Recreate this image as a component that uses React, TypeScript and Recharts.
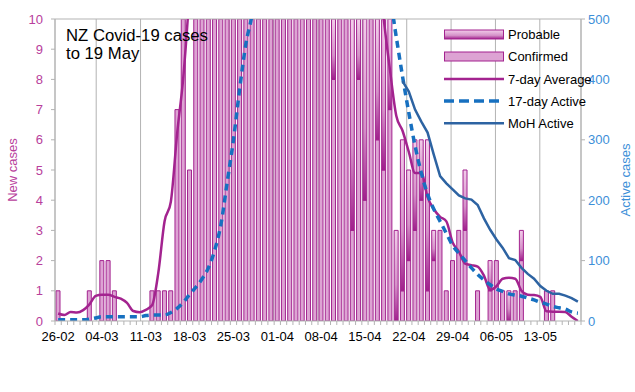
import { ComposedChart, Bar, Line, XAxis, YAxis, CartesianGrid, ReferenceLine, Legend } from 'recharts'

const DATES = [
  '26-02', '27-02', '28-02', '29-02', '01-03', '02-03', '03-03', '04-03', '05-03', '06-03',
  '07-03', '08-03', '09-03', '10-03', '11-03', '12-03', '13-03', '14-03', '15-03', '16-03',
  '17-03', '18-03', '19-03', '20-03', '21-03', '22-03', '23-03', '24-03', '25-03', '26-03',
  '27-03', '28-03', '29-03', '30-03', '31-03', '01-04', '02-04', '03-04', '04-04', '05-04',
  '06-04', '07-04', '08-04', '09-04', '10-04', '11-04', '12-04', '13-04', '14-04', '15-04',
  '16-04', '17-04', '18-04', '19-04', '20-04', '21-04', '22-04', '23-04', '24-04', '25-04',
  '26-04', '27-04', '28-04', '29-04', '30-04', '01-05', '02-05', '03-05', '04-05', '05-05',
  '06-05', '07-05', '08-05', '09-05', '10-05', '11-05', '12-05', '13-05', '14-05', '15-05',
  '16-05', '17-05', '18-05', '19-05',
]

const CONFIRMED = [
  1, 0, 0, 0, 0, 1, 0, 2, 2, 1,
  0, 0, 0, 0, 0, 1, 1, 1, 1, 7,
  12, 5, 14, 20, 36, 40, 50, 78, 85, 83,
  63, 76, 58, 61, 71, 71, 82, 89, 67, 54,
  50, 29, 44, 29, 8, 19, 20, 3, 8, 4,
  15, 6, 5, 7, 0, 1, 2, 3, 4, 1,
  2, 3, 1, 2, 3, 3, 0, 1, 0, 1,
  2, 1, 0, 1, 2, 0, 0, 0, 1, 1,
  0, 0, 0, 0,
]

const PROBABLE = [
  0, 0, 0, 0, 0, 0, 0, 0, 0, 0,
  0, 0, 0, 0, 0, 0, 0, 0, 0, 0,
  0, 0, 0, 0, 0, 0, 0, 0, 0, 0,
  0, 0, 0, 0, 0, 0, 0, 0, 0, 0,
  0, 0, 0, 0, 5, 0, 0, 9, 5, 8,
  0, 6, 7, 5, 3, 5, 3, 3, 2, 5,
  1, 0, 0, 0, 0, 2, 0, 0, 0, 1,
  0, 0, 1, 0, 1, 0, 0, 0, 0, 0,
  0, 0, 0, 0,
]

const AVG7 = [
  0.25, 0.2, 0.3, 0.28, 0.36, 0.55, 0.83, 0.87, 0.87, 0.8,
  0.74, 0.6, 0.33, 0.29, 0.37, 0.52, 1.6, 3.3, 3.95, 6.2,
  8.1, 11, 15, 20, 26, 33, 42, 50, 58, 64,
  68, 70, 72, 71, 70, 68, 67, 68, 70, 68,
  64, 58, 50, 44, 38, 33, 28, 24, 20, 17,
  14, 12, 10, 8.3, 6.8, 6.3, 5.6, 4.9, 4.9, 4.1,
  3.7, 3.45, 3.3, 2.6, 2.3, 1.9, 1.85, 1.8, 1.5, 1.03,
  1.15, 1.4, 1.43, 1.4, 1.0, 0.87, 0.86, 0.8, 0.32, 0.31,
  0.31, 0.3, 0.14, 0,
]

const ACTIVE17 = [
  2, 2, 2, 2, 2, 3, 5, 7, 7, 7,
  7, 7, 7, 7, 9, 10, 10, 10, 14, 21,
  31, 44, 56, 70, 88, 117, 160, 230, 300, 385,
  460, 510, 600, 680, 740, 800, 850, 890, 920, 940,
  950, 950, 940, 920, 890, 850, 800, 750, 700, 660,
  620, 590, 560, 535, 470, 405, 345, 290, 245, 210,
  185, 165, 145, 125, 112, 100, 88, 77, 68, 60,
  53, 49, 45, 43, 41, 38, 35, 31, 28, 24,
  22, 20, 15, 13,
]

const MOH_ACTIVE = [
  null, null, null, null, null, null, null, null, null, null,
  null, null, null, null, null, null, null, null, null, null,
  null, null, null, null, null, null, null, null, null, null,
  null, null, null, null, null, null, null, null, null, null,
  null, null, null, null, null, null, null, null, null, null,
  null, null, null, null, null, 397, 380, 350, 330, 312,
  275, 240, 228, 218, 208, 203, 201, 192, 170, 151,
  135, 121, 104, 101, 88, 78, 70, 58, 50, 45,
  45, 42, 38, 32,
]

const LEFT_TICKS = [0, 1, 2, 3, 4, 5, 6, 7, 8, 9, 10]
const RIGHT_TICKS = [0, 100, 200, 300, 400, 500]
// week boundaries on a hidden numeric axis, used only for the vertical grid
const WEEK_LINES = [6.5, 13.5, 20.5, 27.5, 34.5, 41.5, 48.5, 55.5, 62.5, 69.5, 76.5]

const GRID = '#b3b3b3'
const MAGENTA = '#a3238f'
const PINK_FILL = '#dda3d3'
const LEFT_TEXT = '#b8409c'
const DASH_BLUE = '#1770c0'
const MOH_BLUE = '#2d63a2'
const RIGHT_TEXT = '#3d8fd8'
const FONT = '"Liberation Sans", Arial, sans-serif'

const data = DATES.map((date, i) => ({
  date,
  confirmed: CONFIRMED[i],
  probable: PROBABLE[i],
  avg7: AVG7[i],
  active17: ACTIVE17[i],
  moh: MOH_ACTIVE[i],
}))

function XTick(props: any) {
  const { x, y, payload, index } = props
  const off = payload.offset ?? 0
  const axisY = y - 11
  return (
    <g>
      <line x1={x - off} x2={x - off} y1={axisY} y2={axisY + 4} stroke={GRID} />
      {index === DATES.length - 1 && (
        <line x1={x + off} x2={x + off} y1={axisY} y2={axisY + 4} stroke={GRID} />
      )}
      {index % 7 === 0 && (
        <text x={x} y={y} dy="0.71em" textAnchor="middle" fill="#000" fontSize={13}>
          {payload.value}
        </text>
      )}
    </g>
  )
}

function LegendBox() {
  const rows = [34.5, 56.5, 79, 101, 123.3].map((v) => v - 24)
  const labels = ['Probable', 'Confirmed', '7-day Average', '17-day Active', 'MoH Active']
  return (
    <svg width={190} height={112} style={{ overflow: 'visible', display: 'block' }}>
      <rect x={4.5} y={rows[0] - 4.5} width={59} height={9} fill="url(#probGrad)" stroke={MAGENTA} />
      <rect x={4.5} y={rows[1] - 4.5} width={59} height={9} fill={PINK_FILL} stroke={MAGENTA} />
      <line x1={4} x2={64} y1={rows[2]} y2={rows[2]} stroke={MAGENTA} strokeWidth={2.5} />
      <line x1={4} x2={64} y1={rows[3]} y2={rows[3]} stroke={DASH_BLUE} strokeWidth={3.5} strokeDasharray="10 5" />
      <line x1={4} x2={64} y1={rows[4]} y2={rows[4]} stroke={MOH_BLUE} strokeWidth={2.5} />
      {labels.map((l, i) => (
        <text key={l} x={68} y={rows[i]} dominantBaseline="central" fontSize={13} fill="#000">
          {l}
        </text>
      ))}
    </svg>
  )
}

function RightLabel(props: any) {
  const vb = props.viewBox
  const cx = vb.x + vb.width - 10
  const cy = vb.y + vb.height / 2 + 10
  return (
    <text
      x={cx}
      y={cy}
      transform={`rotate(-90 ${cx} ${cy})`}
      textAnchor="middle"
      dominantBaseline="central"
      fill={RIGHT_TEXT}
      fontSize={13}
    >
      Active cases
    </text>
  )
}

export default function App() {
  return (
    <div style={{ position: 'absolute', left: 0, top: 0, width: 635, height: 392, fontFamily: FONT, background: '#fff' }}>
      <ComposedChart width={635} height={392} data={data} margin={{ top: 19, right: 0, bottom: 41, left: 0 }}>
        <defs>
          <linearGradient id="probGrad" x1="0" y1="0" x2="0" y2="1">
            <stop offset="0%" stopColor="#f2cdea" />
            <stop offset="60%" stopColor="#d592c9" />
            <stop offset="100%" stopColor="#a01f8c" />
          </linearGradient>
        </defs>
        <XAxis
          xAxisId="grid"
          type="number"
          domain={[-0.5, 83.5]}
          ticks={WEEK_LINES}
          allowDataOverflow
          hide
          height={0}
        />
        <XAxis
          xAxisId="x"
          dataKey="date"
          interval={0}
          height={30}
          tickLine={false}
          tickSize={0}
          tickMargin={11}
          axisLine={{ stroke: GRID }}
          tick={(p: any) => <XTick {...p} />}
        />
        <YAxis
          yAxisId="left"
          domain={[0, 10]}
          ticks={LEFT_TICKS}
          allowDataOverflow
          width={55}
          tickSize={4}
          tickMargin={8}
          axisLine={{ stroke: GRID }}
          tickLine={{ stroke: GRID }}
          tick={{ fill: LEFT_TEXT, fontSize: 13 }}
          label={{
            value: 'New cases',
            angle: -90,
            position: 'insideLeft',
            offset: 12,
            fill: LEFT_TEXT,
            fontSize: 13,
            style: { textAnchor: 'middle' },
          }}
        />
        <YAxis
          yAxisId="right"
          orientation="right"
          domain={[0, 500]}
          ticks={RIGHT_TICKS}
          allowDataOverflow
          width={54}
          tickSize={4}
          tickMargin={3}
          axisLine={{ stroke: GRID }}
          tickLine={{ stroke: GRID }}
          tick={{ fill: RIGHT_TEXT, fontSize: 13 }}
          label={{ content: (p: any) => <RightLabel {...p} /> }}
        />
        <CartesianGrid xAxisId="grid" yAxisId="left" horizontal={false} stroke={GRID} />
        <ReferenceLine xAxisId="x" yAxisId="left" y={10} stroke={GRID} />
        <Bar
          xAxisId="x"
          yAxisId="left"
          dataKey="confirmed"
          stackId="cases"
          barSize={4}
          fill={PINK_FILL}
          stroke={MAGENTA}
          strokeWidth={1}
          isAnimationActive={false}
        />
        <Bar
          xAxisId="x"
          yAxisId="left"
          dataKey="probable"
          stackId="cases"
          barSize={4}
          fill="url(#probGrad)"
          stroke={MAGENTA}
          strokeWidth={1}
          isAnimationActive={false}
        />
        <Line
          xAxisId="x"
          yAxisId="left"
          dataKey="avg7"
          type="monotone"
          stroke={MAGENTA}
          strokeWidth={2.5}
          dot={false}
          isAnimationActive={false}
        />
        <Line
          xAxisId="x"
          yAxisId="right"
          dataKey="active17"
          type="monotone"
          stroke={DASH_BLUE}
          strokeWidth={3.5}
          strokeDasharray="7 5"
          dot={false}
          isAnimationActive={false}
        />
        <Line
          xAxisId="x"
          yAxisId="right"
          dataKey="moh"
          type="linear"
          stroke={MOH_BLUE}
          strokeWidth={2.5}
          dot={false}
          isAnimationActive={false}
        />
        <Legend
          layout="vertical"
          align="center"
          verticalAlign="middle"
          content={() => <LegendBox />}
          wrapperStyle={{ left: 440, top: 24, width: 190, height: 112 }}
        />
      </ComposedChart>
      <div
        style={{
          position: 'absolute',
          left: 66,
          top: 26.6,
          fontSize: 16.7,
          lineHeight: '18.5px',
          color: '#000',
          pointerEvents: 'none',
        }}
      >
        NZ Covid-19 cases
        <br />
        to 19 May
      </div>
    </div>
  )
}
